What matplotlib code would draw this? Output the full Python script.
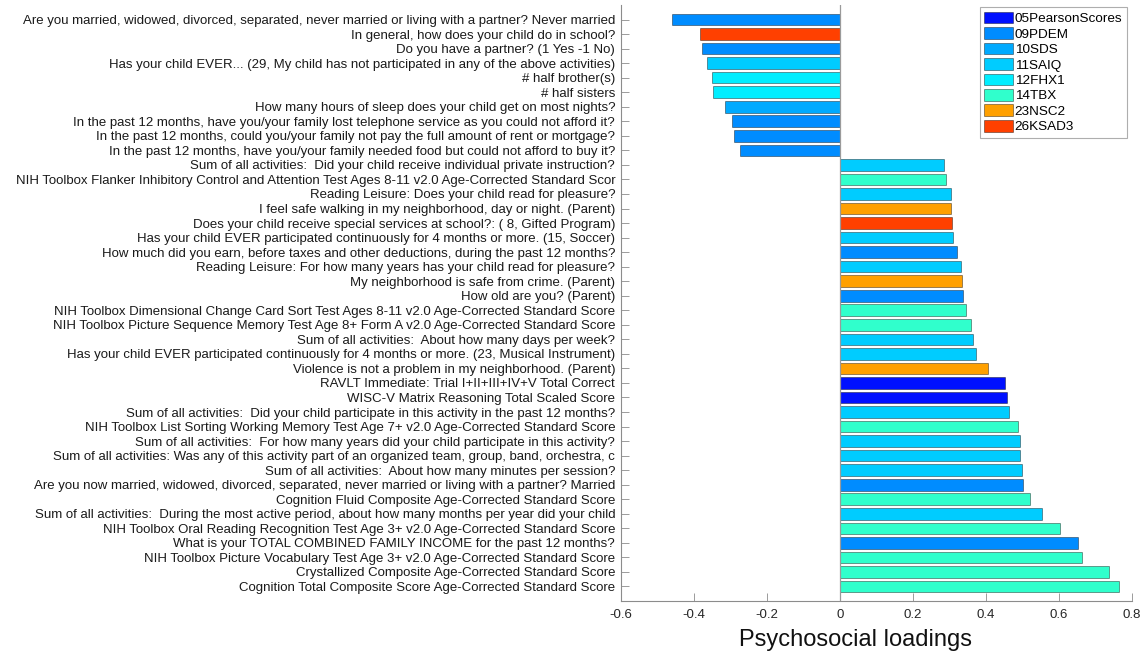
import numpy as np
import matplotlib
matplotlib.use("Agg")
from matplotlib import pyplot as plt
from matplotlib.patches import Patch

plt.rcParams["font.family"] = ["Liberation Sans", "DejaVu Sans"]

# legend groups and their colours
groups = ["05PearsonScores", "09PDEM", "10SDS", "11SAIQ", "12FHX1", "14TBX", "23NSC2", "26KSAD3"]
group_colors = ["#0010ff", "#008cff", "#00aaff", "#00ccff", "#00eeff", "#30ffcc", "#ffa000", "#ff4000"]

# items, top to bottom
labels = [
    "Are you married, widowed, divorced, separated, never married or living with a partner? Never married",
    "In general, how does your child do in school?",
    "Do you have a partner? (1 Yes -1 No)",
    "Has your child EVER... (29, My child has not participated in any of the above activities)",
    "# half brother(s)",
    "# half sisters",
    "How many hours of sleep does your child get on most nights?",
    "In the past 12 months, have you/your family lost telephone service as you could not afford it?",
    "In the past 12 months, could you/your family not pay the full amount of rent or mortgage?",
    "In the past 12 months, have you/your family needed food but could not afford to buy it?",
    "Sum of all activities:  Did your child receive individual private instruction?",
    "NIH Toolbox Flanker Inhibitory Control and Attention Test Ages 8-11 v2.0 Age-Corrected Standard Scor",
    "Reading Leisure: Does your child read for pleasure?",
    "I feel safe walking in my neighborhood, day or night. (Parent)",
    "Does your child receive special services at school?: ( 8, Gifted Program)",
    "Has your child EVER participated continuously for 4 months or more. (15, Soccer)",
    "How much did you earn, before taxes and other deductions, during the past 12 months?",
    "Reading Leisure: For how many years has your child read for pleasure?",
    "My neighborhood is safe from crime. (Parent)",
    "How old are you? (Parent)",
    "NIH Toolbox Dimensional Change Card Sort Test Ages 8-11 v2.0 Age-Corrected Standard Score",
    "NIH Toolbox Picture Sequence Memory Test Age 8+ Form A v2.0 Age-Corrected Standard Score",
    "Sum of all activities:  About how many days per week?",
    "Has your child EVER participated continuously for 4 months or more. (23, Musical Instrument)",
    "Violence is not a problem in my neighborhood. (Parent)",
    "RAVLT Immediate: Trial I+II+III+IV+V Total Correct",
    "WISC-V Matrix Reasoning Total Scaled Score",
    "Sum of all activities:  Did your child participate in this activity in the past 12 months?",
    "NIH Toolbox List Sorting Working Memory Test Age 7+ v2.0 Age-Corrected Standard Score",
    "Sum of all activities:  For how many years did your child participate in this activity?",
    "Sum of all activities: Was any of this activity part of an organized team, group, band, orchestra, c",
    "Sum of all activities:  About how many minutes per session?",
    "Are you now married, widowed, divorced, separated, never married or living with a partner? Married",
    "Cognition Fluid Composite Age-Corrected Standard Score",
    "Sum of all activities:  During the most active period, about how many months per year did your child",
    "NIH Toolbox Oral Reading Recognition Test Age 3+ v2.0 Age-Corrected Standard Score",
    "What is your TOTAL COMBINED FAMILY INCOME for the past 12 months?",
    "NIH Toolbox Picture Vocabulary Test Age 3+ v2.0 Age-Corrected Standard Score",
    "Crystallized Composite Age-Corrected Standard Score",
    "Cognition Total Composite Score Age-Corrected Standard Score",
]

loadings = [-0.460, -0.384, -0.378, -0.364, -0.350, -0.348, -0.314, -0.296, -0.291, -0.273,
            0.286, 0.291, 0.305, 0.305, 0.308, 0.311, 0.322, 0.333, 0.335, 0.336,
            0.345, 0.359, 0.365, 0.372, 0.407, 0.452, 0.459, 0.463, 0.488, 0.493,
            0.494, 0.499, 0.501, 0.521, 0.554, 0.602, 0.651, 0.664, 0.738, 0.764]

item_group = ["09PDEM", "26KSAD3", "09PDEM", "11SAIQ", "12FHX1", "12FHX1", "10SDS", "09PDEM", "09PDEM", "09PDEM",
              "11SAIQ", "14TBX", "11SAIQ", "23NSC2", "26KSAD3", "11SAIQ", "09PDEM", "11SAIQ", "23NSC2", "09PDEM",
              "14TBX", "14TBX", "11SAIQ", "11SAIQ", "23NSC2", "05PearsonScores", "05PearsonScores", "11SAIQ", "14TBX", "11SAIQ",
              "11SAIQ", "11SAIQ", "09PDEM", "14TBX", "11SAIQ", "14TBX", "09PDEM", "14TBX", "14TBX", "14TBX"]

xticks = [-0.6, -0.4, -0.2, 0, 0.2, 0.4, 0.6, 0.8]
xtick_labels = ["-0.6", "-0.4", "-0.2", "0", "0.2", "0.4", "0.6", "0.8"]

cmap = dict(zip(groups, group_colors))
bar_colors = [cmap[g] for g in item_group]

fig = plt.figure(figsize=(11.48, 6.57), dpi=100)
ax = fig.add_axes([620.7 / 1148, 56 / 657, 511.3 / 1148, 596 / 657])

ypos = np.arange(1, len(labels) + 1)
ax.barh(ypos, loadings, height=0.8, color=bar_colors, edgecolor=(0, 0, 0, 0.4), linewidth=0.7, zorder=2)
ax.axvline(0, color="#9a9a9a", linewidth=0.9, zorder=3)

ax.set_ylim(len(labels) + 1, 0)
ax.set_xlim(-0.6, 0.8)
ax.set_yticks(ypos)
ax.set_yticklabels(labels, fontsize=9.5, color="#1a1a1a")
ax.set_xticks(xticks)
ax.set_xticklabels(xtick_labels, fontsize=9.5, color="#262626")
ax.tick_params(axis="both", direction="in", length=5.5, width=0.6, color="#8c8c8c")
ax.tick_params(axis="y", pad=4)
ax.tick_params(axis="x", pad=6)

for s in ["top", "right"]:
    ax.spines[s].set_visible(False)
for s in ["left", "bottom"]:
    ax.spines[s].set_color("#8c8c8c")
    ax.spines[s].set_linewidth(0.8)

ax.set_xlabel("Psychosocial loadings", fontsize=17, color="#111111")
ax.xaxis.set_label_coords(0.46, -0.047)

handles = [Patch(facecolor=c, edgecolor=(0, 0, 0, 0.4), linewidth=0.7) for c in group_colors]
leg = ax.legend(handles, groups, loc="upper right", bbox_to_anchor=(1127 / 1148, 1 - 7 / 657),
                bbox_transform=fig.transFigure, borderaxespad=0, fontsize=9.7, frameon=True,
                fancybox=False, handlelength=2.1, handleheight=0.95, handletextpad=0.15,
                labelspacing=0.15, borderpad=0.35)
leg.get_frame().set_edgecolor("#9a9a9a")
leg.get_frame().set_linewidth(0.8)

fig.savefig("out.png", dpi=100)
